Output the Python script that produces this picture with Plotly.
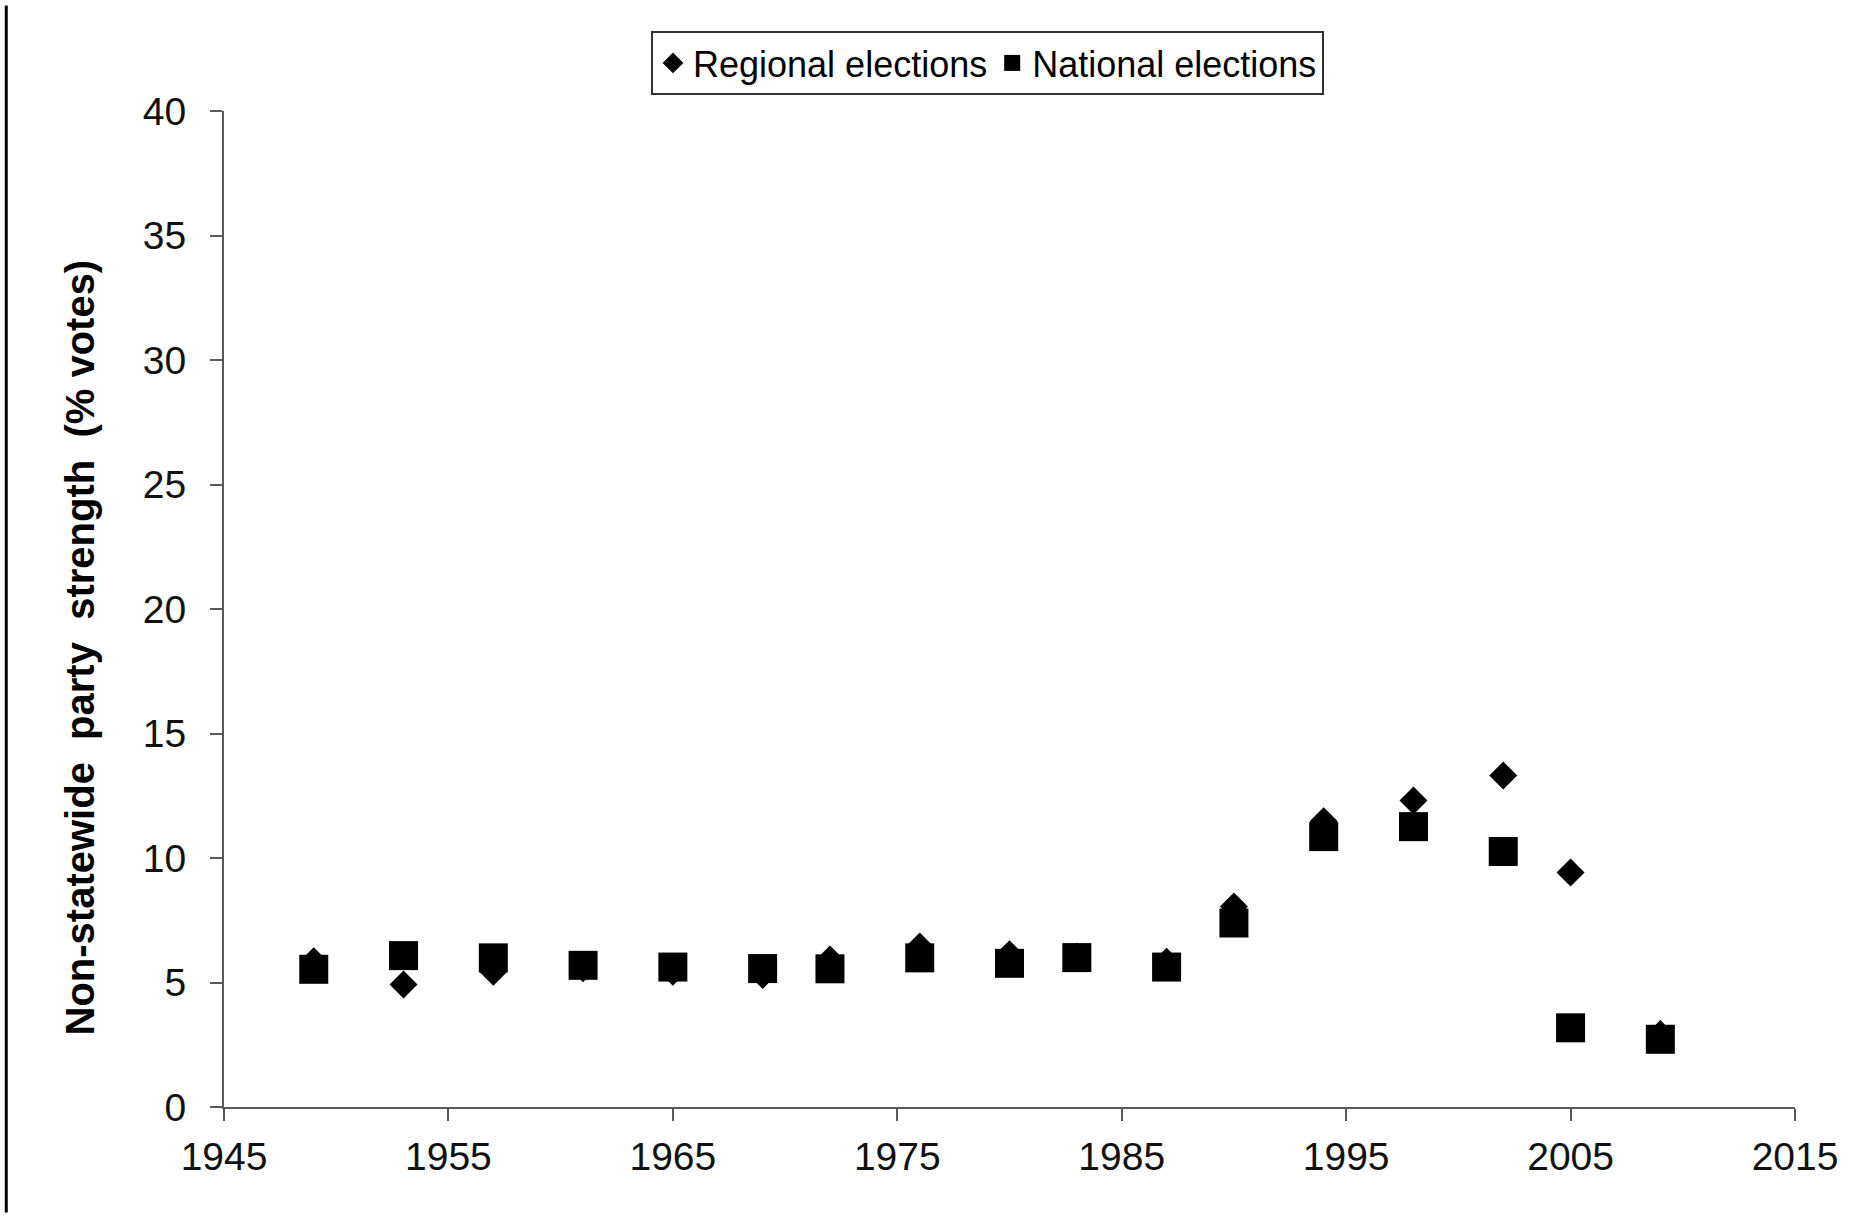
import plotly.graph_objects as go

years = [1949, 1953, 1957, 1961, 1965, 1969, 1972, 1976, 1980, 1983, 1987, 1990, 1994, 1998, 2002, 2005, 2009]
regional = [5.85, 4.92, 5.43, 5.57, 5.43, 5.30, 5.92, 6.45, 6.14, 6.05, 5.83, 8.05, 11.48, 12.31, 13.31, 9.42, 2.93]
national = [5.53, 6.08, 5.99, 5.69, 5.62, 5.56, 5.55, 5.99, 5.77, 6.00, 5.62, 7.39, 10.86, 11.26, 10.26, 3.18, 2.72]

x_ticks = [1945, 1955, 1965, 1975, 1985, 1995, 2005, 2015]
y_ticks = [0, 5, 10, 15, 20, 25, 30, 35, 40]

FONT = "Liberation Sans, Arial, sans-serif"
AXIS_COLOR = "#595959"

fig = go.Figure()
fig.add_trace(go.Scatter(
    x=years, y=regional, mode="markers", name="Regional elections",
    marker=dict(symbol="diamond", size=21.5, color="black", line=dict(width=0)),
))
fig.add_trace(go.Scatter(
    x=years, y=national, mode="markers", name="National elections",
    marker=dict(symbol="square", size=29, color="black", line=dict(width=0)),
))

fig.update_layout(
    width=1865, height=1217,
    margin=dict(l=224, r=70, t=111, b=110, pad=0),
    paper_bgcolor="white", plot_bgcolor="white",
    font=dict(family=FONT, color="black"),
    showlegend=True,
    legend=dict(
        orientation="h", x=0.486, xanchor="center", y=1.0803, yanchor="top",
        bordercolor="#333333", borderwidth=2, bgcolor="white",
        font=dict(family=FONT, size=36, color="black"),
        itemwidth=30, tracegroupgap=0,
    ),
    xaxis=dict(
        range=[1945, 2015], tickvals=x_ticks, ticktext=[str(v) for v in x_ticks],
        showline=True, linecolor=AXIS_COLOR, linewidth=2,
        ticks="outside", ticklen=12, tickwidth=2, tickcolor=AXIS_COLOR,
        showgrid=False, zeroline=False,
        tickfont=dict(family=FONT, size=39, color="#111111"),
        ticklabelstandoff=2,
    ),
    yaxis=dict(
        range=[0, 40], tickvals=y_ticks, ticktext=[str(v) for v in y_ticks],
        showline=True, linecolor=AXIS_COLOR, linewidth=2,
        ticks="outside", ticklen=12, tickwidth=2, tickcolor=AXIS_COLOR,
        showgrid=False, zeroline=False,
        tickfont=dict(family=FONT, size=39, color="#111111"),
        ticklabelstandoff=16,
    ),
    annotations=[dict(
        text="Non-statewide\u00a0 party\u00a0 strength\u00a0 (% votes)",
        xref="paper", yref="paper", x=-0.0919, y=0.461,
        xanchor="center", yanchor="middle", textangle=-90, showarrow=False,
        font=dict(family=FONT, size=40, color="black", weight="bold"),
    )],
    shapes=[dict(
        type="line", xref="paper", yref="paper",
        x0=-0.1386, x1=-0.1386, y0=1.106, y1=-0.106,
        line=dict(color="black", width=3),
    )],
)

fig.write_html("out.html", config={"displayModeBar": False},
               post_script="document.body.style.margin='0';")
